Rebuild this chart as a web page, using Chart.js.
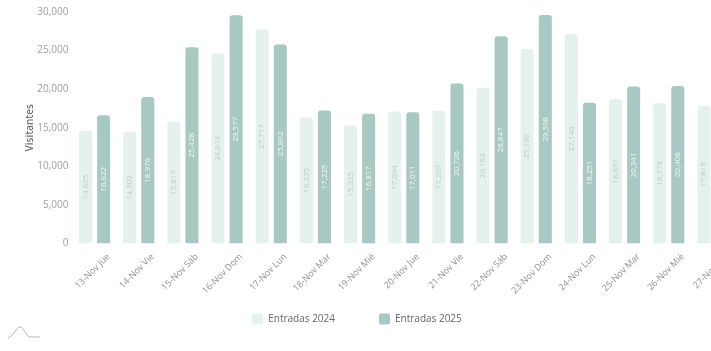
<!DOCTYPE html>
<html>
<head>
<meta charset="utf-8">
<script src="https://cdn.jsdelivr.net/npm/chart.js@4/dist/chart.umd.min.js"></script>
<style>
  html, body { margin: 0; padding: 0; background: #fff; overflow: hidden; }
  #wrap { position: relative; width: 735px; height: 351px; }
  #myChart { display: block; width: 735px; height: 351px; }
  #icon { position: absolute; left: 6px; top: 324px; }
</style>
</head>
<body>
<div id="wrap">
  <canvas id="myChart" width="735" height="351"></canvas>
  <svg id="icon" width="36" height="16" viewBox="0 0 36 16">
    <path d="M2 14 C8 12 10 3 14 3 C18 3 19 12 24 13 L34 13" fill="none" stroke="#b5b5b5" stroke-width="1"/>
  </svg>
</div>
<script>
const ctx = document.getElementById('myChart').getContext('2d');

// days shown (the last one is cut off on the right in the original)
var dias = ['13-Nov Jue', '14-Nov Vie', '15-Nov Sáb', '16-Nov Dom', '17-Nov Lun', '18-Nov Mar', '19-Nov Mié',
            '20-Nov Jue', '21-Nov Vie', '22-Nov Sáb', '23-Nov Dom', '24-Nov Lun', '25-Nov Mar', '26-Nov Mié', '27-Nov Jue'];

var entradas2024 = [14605, 14502, 15817, 24614, 27717, 16335, 15325, 17094, 17207, 20162, 25190, 27140, 18697, 18178, 17815];
var entradas2025 = [16622, 18976, 25428, 29577, 25802, 17225, 16817, 17011, 20726, 26847, 29598, 18251, 20341, 20408, null];

var yTicksMax = 30000;
var yTicksStep = 5000;

const fontFam = "'Segoe UI', 'Open Sans', sans-serif";

// numbers written sideways in the middle of every bar
const barLabels = {
    id: 'barLabels',
    afterDatasetsDraw(chart) {
        const c = chart.ctx;
        chart.data.datasets.forEach((ds, di) => {
            const meta = chart.getDatasetMeta(di);
            meta.data.forEach((bar, i) => {
                const v = ds.data[i];
                if (v == null) return;
                c.save();
                c.translate(bar.x, (bar.y + bar.base) / 2);
                c.rotate(-Math.PI / 2);
                c.font = '8px ' + fontFam;
                c.textAlign = 'center';
                c.textBaseline = 'middle';
                c.fillStyle = di === 0 ? '#bccac6' : 'rgba(255,255,255,0.9)';
                c.fillText(v.toLocaleString('en-US'), 0, 0);
                c.restore();
            });
        });
    }
};

// move the legend a little: left of centre and up, closer to the axis labels
const legendShift = {
    id: 'legendShift',
    afterLayout(chart) {
        chart.legend.left -= 10.5;
        chart.legend.right -= 10.5;
        chart.legend.top -= 34;
    }
};

const myChart = new Chart(ctx, {
    type: 'bar',
    data: {
        labels: dias,
        datasets: [{
            label: 'Entradas 2024',
            data: entradas2024,
            backgroundColor: '#e4f1ed',
            borderRadius: { topLeft: 3, topRight: 3 },
            borderSkipped: 'bottom',
            barPercentage: 0.72,
            categoryPercentage: 0.82
        }, {
            label: 'Entradas 2025',
            data: entradas2025,
            backgroundColor: '#a8c8c3',
            borderRadius: { topLeft: 3, topRight: 3 },
            borderSkipped: 'bottom',
            barPercentage: 0.72,
            categoryPercentage: 0.82
        }]
    },
    options: {
        responsive: false,
        animation: false,
        layout: { padding: { top: 12, bottom: 7.5, left: 0, right: 0 } },
        plugins: {
            tooltip: { enabled: false },
            legend: {
                position: 'bottom',
                maxHeight: 40,
                labels: {
                    boxWidth: 11,
                    boxHeight: 11,
                    useBorderRadius: true,
                    borderRadius: 2,
                    padding: 44,
                    color: '#666',
                    font: { family: fontFam, size: 10 }
                }
            }
        },
        scales: {
            x: {
                grid: { display: false, drawTicks: false },
                border: { display: false },
                ticks: {
                    color: '#8f8f8f',
                    font: { family: fontFam, size: 9 },
                    maxRotation: 45,
                    minRotation: 45,
                    labelOffset: 14,
                    padding: 8,
                    autoSkip: false
                },
                afterFit(scale) { scale.height = 60; }
            },
            y: {
                min: 0,
                max: yTicksMax,
                grid: { display: false, drawTicks: false },
                border: { display: false },
                ticks: {
                    stepSize: yTicksStep,
                    color: '#a0a0a0',
                    padding: 4,
                    font: { family: fontFam, size: 10 },
                    callback: v => v.toLocaleString('en-US')
                },
                title: {
                    display: true,
                    text: 'Visitantes',
                    color: '#707070',
                    font: { family: fontFam, size: 10, weight: '600' },
                    padding: { top: 24, bottom: 0 }
                },
                afterFit(scale) { scale.width = 72.5; }
            }
        }
    },
    plugins: [barLabels, legendShift]
});
</script>
</body>
</html>
